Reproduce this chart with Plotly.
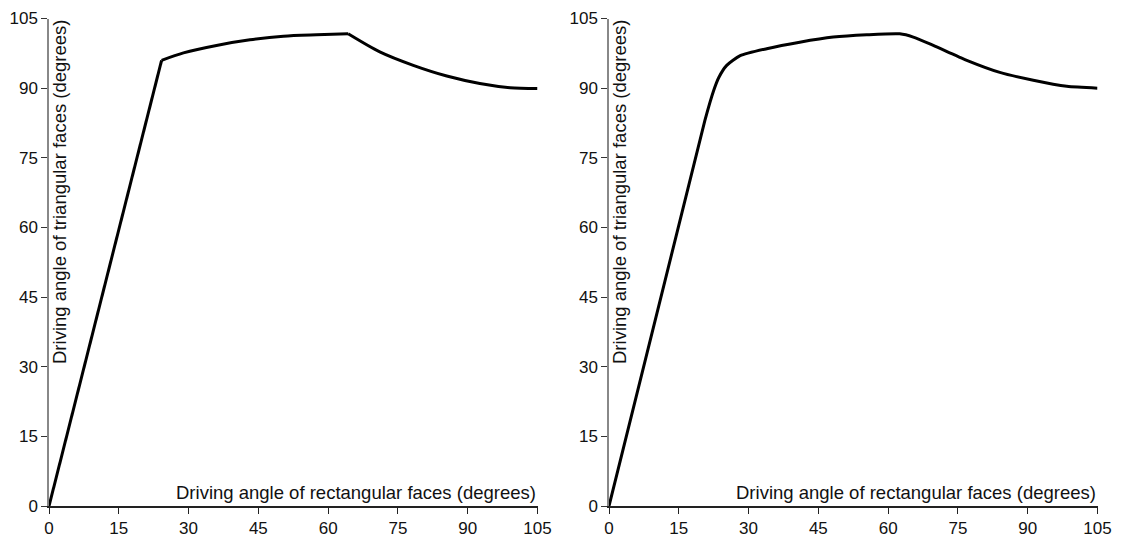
import plotly.graph_objects as go
from plotly.subplots import make_subplots

# Left panel (sharp transitions at ~24 and ~64)
left_x = [0, 24.2, 28.9, 36.0, 43.2, 50.4, 57.5, 64.3, 71.1, 78.3, 85.5, 92.6, 99.1, 105]
left_y = [0, 96.0, 97.6, 99.2, 100.4, 101.2, 101.5, 101.7, 97.8, 94.9, 92.6, 91.0, 90.1, 89.9]

# Right panel (smooth transitions)
right_x = [0, 20.6, 22.5, 23.6, 25.3, 28.2, 33.9, 41.0, 48.2, 55.4, 62.5, 65.4, 69.7, 76.9, 84.0, 91.2, 98.4, 105]
right_y = [0, 83.0, 89.5, 92.3, 94.9, 97.0, 98.5, 99.9, 101.0, 101.5, 101.7, 101.0, 99.2, 96.0, 93.4, 91.7, 90.4, 90.0]

tick_vals = [0, 15, 30, 45, 60, 75, 90, 105]
x_title = "Driving angle of rectangular faces (degrees)"
y_title = "Driving angle of triangular faces (degrees)"

fig = make_subplots(rows=1, cols=2)
line = dict(color="black", width=3)
# left: straight ramp, then two smooth arcs joined at sharp corners
segments = [(0, 2, "linear"), (1, 8, "spline"), (7, len(left_x), "spline")]
for a, b, shp in segments:
    fig.add_trace(go.Scatter(x=left_x[a:b], y=left_y[a:b], mode="lines",
                             line=dict(line, shape=shp, smoothing=0.8)), row=1, col=1)
fig.add_trace(go.Scatter(x=right_x, y=right_y, mode="lines",
                         line=dict(line, shape="spline", smoothing=0.6)), row=1, col=2)

# page body has an 8px margin: figure is drawn 8px in from the window edge
W, H = 1114, 537
off = 8
dom_l = [(49 - off) / W, (537.5 - off) / W]
dom_r = [(609 - off) / W, (1097.5 - off) / W]
dom_y = [(H - (506 - off)) / H, (H - (18.5 - off)) / H]

tick_font = dict(family="Liberation Sans, Arial, sans-serif", size=17, color="#111")
title_font = dict(family="Liberation Sans, Arial, sans-serif", size=18.5, color="#111")
xcommon = dict(range=[0, 105], tickvals=tick_vals, showgrid=False, zeroline=False,
               showline=True, linecolor="#222", linewidth=1.5, ticks="outside",
               ticklen=6, tickcolor="#222", tickfont=tick_font, automargin=False)
ycommon = dict(range=[0, 105], tickvals=tick_vals, showgrid=False, zeroline=False,
               showline=True, linecolor="#888", linewidth=1.5, ticks="outside",
               ticklen=6, tickcolor="#333", tickfont=tick_font, automargin=False)

fig.update_layout(
    width=W, height=H, margin=dict(l=0, r=0, t=0, b=0),
    paper_bgcolor="white", plot_bgcolor="white", showlegend=False,
    xaxis=dict(domain=dom_l, anchor="y", **xcommon),
    xaxis2=dict(domain=dom_r, anchor="y2", **xcommon),
    yaxis=dict(domain=dom_y, anchor="x", **ycommon),
    yaxis2=dict(domain=dom_y, anchor="x2", **ycommon),
)

for xr, yr in [("x", "y"), ("x2", "y2")]:
    fig.add_annotation(x=105, y=0, xref=xr, yref=yr, text=x_title, showarrow=False,
                       xanchor="right", yanchor="bottom", yshift=1, font=title_font)
    fig.add_annotation(x=0, y=105, xref=xr, yref=yr, text=y_title, showarrow=False,
                       textangle=-90, xanchor="left", yanchor="top", xshift=-2,
                       font=title_font)

fig.write_html("out.html")
